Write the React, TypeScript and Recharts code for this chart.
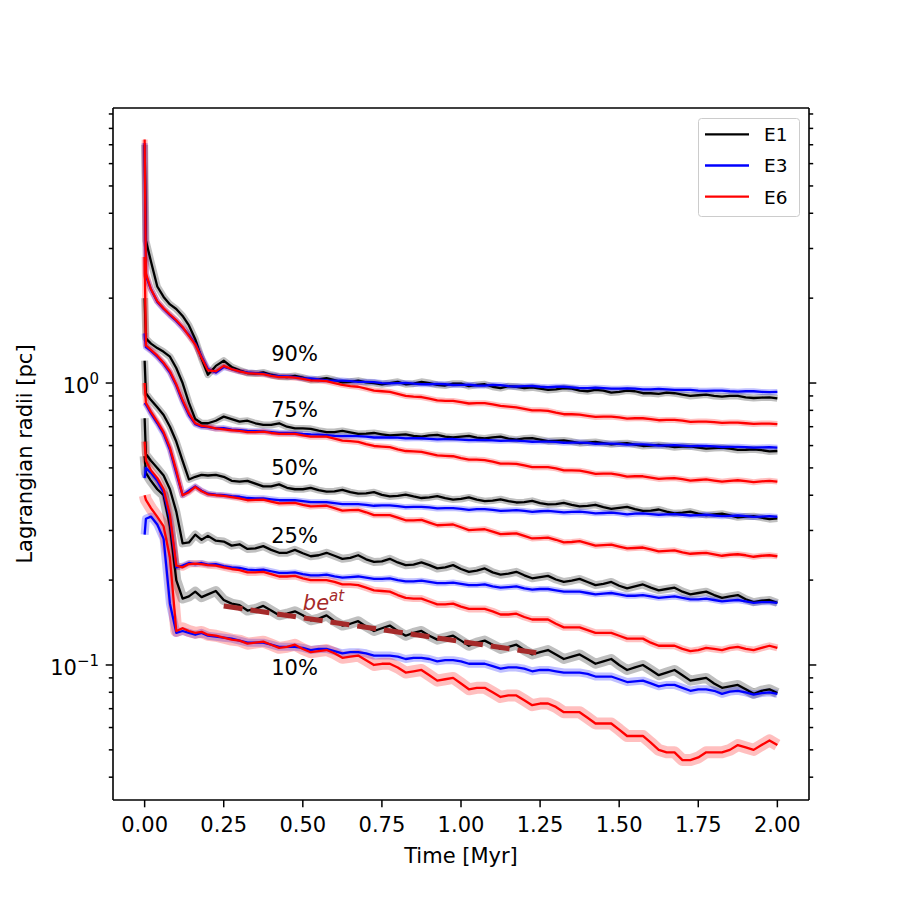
import React from 'react';
import { ComposedChart, Line, XAxis, YAxis, ReferenceDot } from 'recharts';

const FONT = '"DejaVu Sans", sans-serif';

// Time grid [Myr]
const TIME = [0, 0.004, 0.02, 0.04, 0.06, 0.08, 0.1, 0.12, 0.14, 0.16, 0.18, 0.2, 0.225, 0.25, 0.275, 0.3, 0.35, 0.4, 0.45, 0.5, 0.55, 0.6, 0.65, 0.7, 0.75, 0.8, 0.85, 0.9, 0.95, 1.0, 1.05, 1.1, 1.15, 1.2, 1.25, 1.3, 1.35, 1.4, 1.45, 1.5, 1.55, 1.6, 1.65, 1.7, 1.75, 1.8, 1.85, 1.9, 1.95, 2.0];
// intermediate samples (between the 0.05 steps above)
const TIME_MID = [0.325, 0.375, 0.425, 0.475, 0.525, 0.575, 0.625, 0.675, 0.725, 0.775, 0.825, 0.875, 0.925, 0.975, 1.025, 1.075, 1.125, 1.175, 1.225, 1.275, 1.325, 1.375, 1.425, 1.475, 1.525, 1.575, 1.625, 1.675, 1.725, 1.775, 1.825, 1.875, 1.925, 1.975];

// Lagrangian radii [pc]
const R90_E1 = [7.0, 3.2, 2.7, 2.2, 2.02, 1.9, 1.83, 1.73, 1.6, 1.43, 1.22, 1.07, 1.15, 1.2, 1.14, 1.11, 1.08, 1.07, 1.05, 1.045, 1.03, 1.025, 1.01, 1.005, 0.99, 1.01, 0.995, 1.0, 0.98, 0.995, 0.985, 0.97, 0.975, 0.96, 0.955, 0.95, 0.955, 0.935, 0.94, 0.93, 0.935, 0.92, 0.925, 0.91, 0.905, 0.9, 0.9, 0.89, 0.888, 0.882];
const R90_E1_MID = [1.085, 1.09, 1.055, 1.06, 1.025, 1.04, 1.005, 1.02, 1.0, 1.0, 0.99, 1.01, 0.985, 0.995, 0.975, 0.99, 0.96, 0.97, 0.965, 0.945, 0.96, 0.94, 0.945, 0.925, 0.94, 0.92, 0.915, 0.92, 0.9, 0.91, 0.895, 0.9, 0.885, 0.89];
const R90_E3 = [7.1, 2.4, 2.15, 1.94, 1.83, 1.74, 1.66, 1.57, 1.48, 1.38, 1.24, 1.12, 1.09, 1.14, 1.12, 1.1, 1.085, 1.065, 1.055, 1.04, 1.03, 1.02, 1.015, 1.01, 1.0, 1.0, 0.995, 0.99, 0.99, 0.985, 0.98, 0.985, 0.975, 0.975, 0.97, 0.97, 0.965, 0.96, 0.96, 0.955, 0.955, 0.95, 0.95, 0.945, 0.94, 0.94, 0.935, 0.935, 0.93, 0.93];
const R90_E3_MID = [1.09, 1.08, 1.058, 1.05, 1.038, 1.022, 1.02, 1.009, 1.008, 0.997, 1.001, 0.99, 0.993, 0.984, 0.986, 0.979, 0.983, 0.972, 0.976, 0.966, 0.97, 0.96, 0.962, 0.955, 0.958, 0.95, 0.953, 0.945, 0.945, 0.938, 0.94, 0.932, 0.935, 0.928];
const R90_E6 = [7.3, 2.45, 2.15, 1.95, 1.84, 1.75, 1.67, 1.58, 1.47, 1.37, 1.23, 1.11, 1.1, 1.15, 1.12, 1.1, 1.08, 1.06, 1.05, 1.035, 1.02, 1.0, 0.975, 0.955, 0.935, 0.915, 0.895, 0.88, 0.865, 0.855, 0.848, 0.84, 0.825, 0.81, 0.8, 0.785, 0.775, 0.765, 0.76, 0.755, 0.75, 0.745, 0.74, 0.735, 0.73, 0.727, 0.724, 0.72, 0.718, 0.715];
const R90_E6_MID = [1.085, 1.075, 1.05, 1.045, 1.022, 1.015, 0.985, 0.97, 0.94, 0.93, 0.9, 0.892, 0.868, 0.864, 0.846, 0.848, 0.83, 0.82, 0.8, 0.797, 0.775, 0.772, 0.758, 0.76, 0.748, 0.75, 0.738, 0.74, 0.728, 0.73, 0.722, 0.724, 0.716, 0.718];

const R75_E1 = [2.0, 1.44, 1.38, 1.33, 1.29, 1.24, 1.13, 1.0, 0.85, 0.745, 0.72, 0.72, 0.735, 0.76, 0.745, 0.73, 0.72, 0.71, 0.7, 0.69, 0.678, 0.67, 0.668, 0.662, 0.658, 0.655, 0.65, 0.652, 0.645, 0.646, 0.64, 0.642, 0.635, 0.636, 0.63, 0.624, 0.62, 0.615, 0.612, 0.61, 0.605, 0.6, 0.598, 0.595, 0.59, 0.588, 0.585, 0.58, 0.578, 0.574];
const R75_E1_MID = [0.735, 0.71, 0.72, 0.69, 0.688, 0.67, 0.676, 0.66, 0.665, 0.652, 0.658, 0.645, 0.655, 0.642, 0.65, 0.636, 0.645, 0.63, 0.638, 0.622, 0.626, 0.612, 0.618, 0.606, 0.612, 0.598, 0.603, 0.592, 0.596, 0.585, 0.59, 0.579, 0.582, 0.572];
const R75_E3 = [1.5, 1.34, 1.3, 1.24, 1.17, 1.09, 0.98, 0.86, 0.77, 0.715, 0.7, 0.698, 0.69, 0.692, 0.683, 0.68, 0.675, 0.67, 0.665, 0.66, 0.656, 0.65, 0.648, 0.645, 0.641, 0.64, 0.637, 0.634, 0.632, 0.63, 0.628, 0.626, 0.625, 0.622, 0.62, 0.618, 0.615, 0.613, 0.61, 0.608, 0.606, 0.603, 0.601, 0.6, 0.598, 0.596, 0.594, 0.592, 0.591, 0.59];
const R75_E3_MID = [0.676, 0.674, 0.666, 0.664, 0.657, 0.654, 0.648, 0.648, 0.641, 0.642, 0.636, 0.637, 0.631, 0.633, 0.627, 0.628, 0.624, 0.625, 0.619, 0.62, 0.614, 0.615, 0.609, 0.61, 0.605, 0.606, 0.6, 0.602, 0.597, 0.598, 0.593, 0.594, 0.59, 0.592];
const R75_E6 = [2.8, 1.36, 1.31, 1.25, 1.18, 1.1, 0.99, 0.87, 0.78, 0.72, 0.705, 0.7, 0.69, 0.685, 0.68, 0.677, 0.67, 0.665, 0.66, 0.652, 0.645, 0.635, 0.622, 0.607, 0.595, 0.582, 0.572, 0.562, 0.552, 0.542, 0.535, 0.526, 0.518, 0.51, 0.503, 0.498, 0.49, 0.483, 0.477, 0.472, 0.467, 0.462, 0.459, 0.456, 0.453, 0.451, 0.45, 0.449, 0.448, 0.447];
const R75_E6_MID = [0.67, 0.672, 0.66, 0.66, 0.645, 0.645, 0.625, 0.618, 0.598, 0.592, 0.574, 0.57, 0.554, 0.55, 0.535, 0.533, 0.518, 0.517, 0.503, 0.503, 0.49, 0.489, 0.476, 0.477, 0.466, 0.467, 0.457, 0.46, 0.451, 0.455, 0.447, 0.452, 0.445, 0.45];

const R50_E1 = [1.2, 0.92, 0.87, 0.82, 0.77, 0.7, 0.62, 0.53, 0.455, 0.465, 0.472, 0.47, 0.472, 0.465, 0.45, 0.447, 0.44, 0.43, 0.425, 0.42, 0.417, 0.413, 0.41, 0.406, 0.401, 0.398, 0.396, 0.393, 0.391, 0.388, 0.386, 0.383, 0.381, 0.378, 0.375, 0.372, 0.37, 0.367, 0.363, 0.361, 0.357, 0.353, 0.35, 0.347, 0.344, 0.342, 0.339, 0.336, 0.333, 0.331];
const R50_E1_MID = [0.45, 0.43, 0.437, 0.42, 0.425, 0.412, 0.418, 0.405, 0.41, 0.396, 0.402, 0.391, 0.397, 0.386, 0.393, 0.381, 0.387, 0.377, 0.382, 0.371, 0.376, 0.365, 0.37, 0.358, 0.364, 0.352, 0.356, 0.345, 0.35, 0.34, 0.344, 0.334, 0.337, 0.329];
const R50_E3 = [0.85, 0.84, 0.78, 0.72, 0.66, 0.58, 0.48, 0.4, 0.415, 0.43, 0.415, 0.405, 0.402, 0.4, 0.397, 0.395, 0.39, 0.387, 0.384, 0.381, 0.378, 0.375, 0.372, 0.37, 0.368, 0.366, 0.364, 0.362, 0.36, 0.358, 0.357, 0.355, 0.353, 0.352, 0.351, 0.35, 0.349, 0.348, 0.346, 0.345, 0.344, 0.343, 0.342, 0.341, 0.34, 0.339, 0.338, 0.337, 0.336, 0.335];
const R50_E3_MID = [0.391, 0.39, 0.384, 0.384, 0.378, 0.378, 0.372, 0.372, 0.367, 0.368, 0.363, 0.364, 0.359, 0.36, 0.355, 0.357, 0.352, 0.354, 0.349, 0.352, 0.348, 0.35, 0.345, 0.347, 0.342, 0.345, 0.341, 0.343, 0.339, 0.341, 0.337, 0.339, 0.335, 0.337];
const R50_E6 = [1.0, 0.85, 0.79, 0.73, 0.67, 0.59, 0.49, 0.4, 0.41, 0.428, 0.413, 0.403, 0.4, 0.398, 0.394, 0.39, 0.385, 0.38, 0.375, 0.37, 0.366, 0.36, 0.354, 0.348, 0.34, 0.333, 0.326, 0.32, 0.314, 0.308, 0.302, 0.297, 0.292, 0.287, 0.282, 0.278, 0.273, 0.27, 0.266, 0.263, 0.26, 0.257, 0.254, 0.251, 0.249, 0.247, 0.246, 0.245, 0.244, 0.243];
const R50_E6_MID = [0.384, 0.386, 0.374, 0.376, 0.365, 0.367, 0.353, 0.355, 0.34, 0.34, 0.326, 0.327, 0.313, 0.315, 0.301, 0.303, 0.291, 0.293, 0.281, 0.283, 0.272, 0.275, 0.265, 0.267, 0.259, 0.261, 0.253, 0.255, 0.248, 0.25, 0.244, 0.247, 0.242, 0.245];

const R25_E1 = [0.75, 0.56, 0.53, 0.5, 0.47, 0.42, 0.35, 0.27, 0.272, 0.29, 0.278, 0.287, 0.276, 0.274, 0.265, 0.268, 0.259, 0.256, 0.25, 0.249, 0.245, 0.244, 0.24, 0.237, 0.233, 0.231, 0.227, 0.226, 0.222, 0.219, 0.216, 0.213, 0.211, 0.208, 0.205, 0.201, 0.199, 0.197, 0.194, 0.191, 0.19, 0.188, 0.186, 0.182, 0.18, 0.177, 0.175, 0.171, 0.169, 0.166];
const R25_E1_MID = [0.258, 0.264, 0.25, 0.256, 0.243, 0.25, 0.238, 0.245, 0.232, 0.238, 0.226, 0.231, 0.22, 0.226, 0.214, 0.22, 0.209, 0.214, 0.203, 0.207, 0.197, 0.202, 0.192, 0.197, 0.187, 0.193, 0.184, 0.188, 0.178, 0.182, 0.173, 0.177, 0.167, 0.17];
const R25_E3 = [0.46, 0.5, 0.48, 0.45, 0.41, 0.33, 0.222, 0.225, 0.23, 0.228, 0.23, 0.227, 0.228, 0.224, 0.222, 0.221, 0.217, 0.215, 0.212, 0.21, 0.208, 0.206, 0.205, 0.204, 0.202, 0.2, 0.198, 0.197, 0.195, 0.194, 0.192, 0.19, 0.189, 0.187, 0.186, 0.184, 0.182, 0.18, 0.179, 0.178, 0.176, 0.175, 0.174, 0.173, 0.171, 0.17, 0.169, 0.168, 0.167, 0.166];
const R25_E3_MID = [0.218, 0.218, 0.212, 0.213, 0.208, 0.209, 0.204, 0.206, 0.202, 0.203, 0.198, 0.199, 0.195, 0.196, 0.192, 0.193, 0.188, 0.19, 0.185, 0.186, 0.182, 0.182, 0.178, 0.18, 0.176, 0.177, 0.173, 0.175, 0.171, 0.172, 0.168, 0.17, 0.166, 0.167];
const R25_E6 = [0.62, 0.53, 0.49, 0.46, 0.42, 0.34, 0.225, 0.222, 0.228, 0.229, 0.228, 0.226, 0.225, 0.222, 0.219, 0.217, 0.213, 0.21, 0.206, 0.203, 0.2, 0.197, 0.193, 0.188, 0.183, 0.177, 0.172, 0.168, 0.164, 0.161, 0.158, 0.155, 0.151, 0.148, 0.145, 0.14, 0.136, 0.133, 0.13, 0.127, 0.124, 0.12, 0.117, 0.114, 0.113, 0.114, 0.115, 0.114, 0.115, 0.115];
const R25_E6_MID = [0.213, 0.214, 0.206, 0.207, 0.2, 0.2, 0.193, 0.192, 0.184, 0.182, 0.173, 0.172, 0.164, 0.165, 0.158, 0.158, 0.151, 0.152, 0.145, 0.145, 0.136, 0.136, 0.13, 0.13, 0.124, 0.124, 0.117, 0.117, 0.112, 0.115, 0.113, 0.116, 0.113, 0.117];

const R10_E1 = [0.55, 0.48, 0.45, 0.42, 0.4, 0.31, 0.2, 0.172, 0.175, 0.182, 0.174, 0.178, 0.183, 0.17, 0.165, 0.163, 0.158, 0.156, 0.152, 0.15, 0.146, 0.143, 0.14, 0.137, 0.135, 0.132, 0.13, 0.127, 0.125, 0.122, 0.12, 0.118, 0.116, 0.113, 0.111, 0.109, 0.107, 0.105, 0.103, 0.1, 0.098, 0.096, 0.094, 0.092, 0.089, 0.086, 0.084, 0.082, 0.081, 0.0795];
const R10_E1_MID = [0.156, 0.162, 0.15, 0.155, 0.144, 0.15, 0.138, 0.143, 0.132, 0.138, 0.127, 0.132, 0.123, 0.127, 0.117, 0.122, 0.114, 0.118, 0.109, 0.113, 0.105, 0.109, 0.101, 0.105, 0.096, 0.1, 0.092, 0.096, 0.088, 0.09, 0.083, 0.085, 0.079, 0.082];
const R10_E3 = [0.29, 0.33, 0.336, 0.315, 0.28, 0.165, 0.13, 0.132, 0.13, 0.128, 0.13, 0.127, 0.126, 0.125, 0.124, 0.122, 0.12, 0.118, 0.116, 0.115, 0.114, 0.112, 0.111, 0.11, 0.108, 0.107, 0.106, 0.105, 0.104, 0.103, 0.101, 0.099, 0.098, 0.097, 0.096, 0.095, 0.094, 0.093, 0.091, 0.089, 0.0875, 0.086, 0.085, 0.083, 0.082, 0.081, 0.0805, 0.08, 0.0795, 0.079];
const R10_E3_MID = [0.12, 0.12, 0.116, 0.116, 0.113, 0.114, 0.11, 0.111, 0.108, 0.108, 0.105, 0.106, 0.103, 0.104, 0.101, 0.101, 0.097, 0.098, 0.095, 0.096, 0.094, 0.094, 0.091, 0.091, 0.087, 0.088, 0.084, 0.085, 0.081, 0.082, 0.079, 0.081, 0.0785, 0.08];
const R10_E6 = [0.4, 0.385, 0.36, 0.335, 0.31, 0.24, 0.132, 0.135, 0.132, 0.13, 0.131, 0.128, 0.127, 0.125, 0.123, 0.122, 0.12, 0.118, 0.116, 0.114, 0.112, 0.11, 0.107, 0.104, 0.101, 0.098, 0.095, 0.092, 0.089, 0.086, 0.083, 0.08, 0.078, 0.075, 0.073, 0.071, 0.068, 0.065, 0.062, 0.059, 0.056, 0.053, 0.049, 0.046, 0.047, 0.049, 0.05, 0.051, 0.052, 0.052];
const R10_E6_MID = [0.119, 0.121, 0.115, 0.118, 0.111, 0.113, 0.106, 0.108, 0.1, 0.101, 0.094, 0.096, 0.088, 0.09, 0.082, 0.083, 0.077, 0.078, 0.072, 0.073, 0.068, 0.068, 0.062, 0.062, 0.056, 0.056, 0.05, 0.049, 0.046, 0.049, 0.049, 0.052, 0.05, 0.054];

// exponential fit b*e^(a t) on the 10% E1 curve
const FIT_TIME = [0.25, 1.25];
const FIT_VALUE = [0.162, 0.11];

// ticks and labels
const X_TICKS = [0, 0.25, 0.5, 0.75, 1, 1.25, 1.5, 1.75, 2];
const X_TICK_LABELS = ['0.00', '0.25', '0.50', '0.75', '1.00', '1.25', '1.50', '1.75', '2.00'];
const Y_MAJOR = [0.1, 1];
const Y_MAJOR_EXP = ['\u22121', '0'];
const Y_MINOR = [0.04, 0.05, 0.06, 0.07, 0.08, 0.09, 0.2, 0.3, 0.4, 0.5, 0.6, 0.7, 0.8, 0.9, 2, 3, 4, 5, 6, 7, 8, 9];
const Y_TICKS = [...Y_MINOR.slice(0, 6), 0.1, ...Y_MINOR.slice(6, 14), 1, ...Y_MINOR.slice(14)];

const PCT_TEXT = ['90%', '75%', '50%', '25%', '10%'];
const PCT_T = [0.4, 0.4, 0.4, 0.4, 0.4];
const PCT_V = [1.2, 0.76, 0.47, 0.27, 0.092];
const FIT_LABEL_T = 0.5;
const FIT_LABEL_V = 0.157;

const LEGEND_NAMES = ['E1', 'E3', 'E6'];
const LEGEND_COLORS = ['#000000', '#0000ff', '#ff0000'];

const SERIES = [
  { id: 'r90e1', values: R90_E1, mids: R90_E1_MID, color: '#000000', band: 7 },
  { id: 'r75e1', values: R75_E1, mids: R75_E1_MID, color: '#000000', band: 7 },
  { id: 'r50e1', values: R50_E1, mids: R50_E1_MID, color: '#000000', band: 7 },
  { id: 'r25e1', values: R25_E1, mids: R25_E1_MID, color: '#000000', band: 8 },
  { id: 'r10e1', values: R10_E1, mids: R10_E1_MID, color: '#000000', band: 10 },
  { id: 'r90e3', values: R90_E3, mids: R90_E3_MID, color: '#0000ff', band: 6 },
  { id: 'r75e3', values: R75_E3, mids: R75_E3_MID, color: '#0000ff', band: 6 },
  { id: 'r50e3', values: R50_E3, mids: R50_E3_MID, color: '#0000ff', band: 6 },
  { id: 'r25e3', values: R25_E3, mids: R25_E3_MID, color: '#0000ff', band: 6 },
  { id: 'r10e3', values: R10_E3, mids: R10_E3_MID, color: '#0000ff', band: 8 },
  { id: 'r90e6', values: R90_E6, mids: R90_E6_MID, color: '#ff0000', band: 6 },
  { id: 'r75e6', values: R75_E6, mids: R75_E6_MID, color: '#ff0000', band: 6 },
  { id: 'r50e6', values: R50_E6, mids: R50_E6_MID, color: '#ff0000', band: 6 },
  { id: 'r25e6', values: R25_E6, mids: R25_E6_MID, color: '#ff0000', band: 7 },
  { id: 'r10e6', values: R10_E6, mids: R10_E6_MID, color: '#ff0000', band: 12 },
];

const toPoints = (xs: number[], ys: number[]) => xs.map((t, i) => ({ t, v: ys[i] }));
const buildPoints = (vals: number[], mids: number[]) =>
  [...toPoints(TIME, vals), ...toPoints(TIME_MID, mids)].sort((a, b) => a.t - b.t);

const LeftTick = (p: any) => {
  const v = p.payload.value;
  const mi = Y_MAJOR.indexOf(v);
  const major = mi >= 0;
  return (
    <g>
      <line x1={p.x} y1={p.y} x2={p.x - (major ? 7.3 : 4.2)} y2={p.y} stroke="#000" strokeWidth={1.5} />
      {major && (
        <text x={p.x - 14} y={p.y + 10} textAnchor="end" fontSize={21} fontFamily={FONT} fill="#000">
          10<tspan dy={-9} fontSize={15}>{Y_MAJOR_EXP[mi]}</tspan>
        </text>
      )}
    </g>
  );
};

const RightTick = (p: any) => {
  const v = p.payload.value;
  const major = Y_MAJOR.indexOf(v) >= 0;
  return <line x1={p.x} y1={p.y} x2={p.x + (major ? 7.3 : 4.2)} y2={p.y} stroke="#000" strokeWidth={1.5} />;
};

const BottomTick = (p: any) => {
  const i = X_TICKS.indexOf(p.payload.value);
  return (
    <g>
      <line x1={p.x} y1={p.y} x2={p.x} y2={p.y + 7.3} stroke="#000" strokeWidth={1.5} />
      <text x={p.x} y={p.y + 32} textAnchor="middle" fontSize={21} fontFamily={FONT} fill="#000">
        {X_TICK_LABELS[i]}
      </text>
    </g>
  );
};

const XLabel = (props: any) => {
  const vb = props.viewBox;
  return (
    <text x={vb.x + vb.width / 2} y={vb.y + 63} textAnchor="middle" fontSize={21} fontFamily={FONT} fill="#000">
      Time [Myr]
    </text>
  );
};

const YLabel = (props: any) => {
  const vb = props.viewBox;
  const x = vb.x - 80;
  const y = vb.y + vb.height / 2;
  return (
    <text x={x} y={y} transform={`rotate(-90, ${x}, ${y})`} textAnchor="middle" fontSize={21} fontFamily={FONT} fill="#000">
      Lagrangian radii [pc]
    </text>
  );
};

export default function App() {
  const X_DOMAIN: [number, number] = [-0.1, 2.1];
  const Y_DOMAIN: [number, number] = [0.0332, 9.45];
  return (
    <div style={{ position: 'absolute', left: 0, top: 0, width: 900, height: 900, background: '#fff' }}>
      <ComposedChart
        width={900}
        height={900}
        margin={{ top: 107, right: 90, bottom: 99, left: 112 }}
        style={{ fontFamily: FONT }}
      >
        <XAxis
          xAxisId="x"
          type="number"
          dataKey="t"
          domain={X_DOMAIN}
          allowDataOverflow
          ticks={X_TICKS}
          interval={0}
          height={1}
          tickSize={0}
          tickMargin={0}
          tickLine={false}
          tick={<BottomTick />}
          axisLine={{ stroke: '#000', strokeWidth: 1.6 }}
          label={{ content: <XLabel /> } as any}
        />
        <XAxis
          xAxisId="top"
          orientation="top"
          type="number"
          dataKey="t"
          domain={X_DOMAIN}
          allowDataOverflow
          height={1}
          tick={false}
          tickLine={false}
          axisLine={{ stroke: '#000', strokeWidth: 1.6 }}
        />
        <YAxis
          yAxisId="l"
          type="number"
          scale="log"
          domain={Y_DOMAIN}
          allowDataOverflow
          ticks={Y_TICKS}
          interval={0}
          width={1}
          tickSize={0}
          tickMargin={0}
          tickLine={false}
          tick={<LeftTick />}
          axisLine={{ stroke: '#000', strokeWidth: 1.6 }}
          label={{ content: <YLabel /> } as any}
        />
        <YAxis
          yAxisId="r"
          orientation="right"
          type="number"
          scale="log"
          domain={Y_DOMAIN}
          allowDataOverflow
          ticks={Y_TICKS}
          interval={0}
          width={1}
          tickSize={0}
          tickMargin={0}
          tickLine={false}
          tick={<RightTick />}
          axisLine={{ stroke: '#000', strokeWidth: 1.6 }}
        />
        {SERIES.map((s) => (
          <Line
            key={s.id + '-band'}
            xAxisId="x"
            yAxisId="l"
            data={buildPoints(s.values, s.mids)}
            dataKey="v"
            type="linear"
            stroke={s.color}
            strokeOpacity={0.25}
            strokeWidth={s.band}
            strokeLinejoin="round"
            dot={false}
            activeDot={false}
            isAnimationActive={false}
          />
        ))}
        {SERIES.map((s) => (
          <Line
            key={s.id}
            xAxisId="x"
            yAxisId="l"
            data={buildPoints(s.values, s.mids)}
            dataKey="v"
            type="linear"
            stroke={s.color}
            strokeWidth={2.3}
            strokeLinejoin="round"
            dot={false}
            activeDot={false}
            isAnimationActive={false}
          />
        ))}
        <Line
          xAxisId="x"
          yAxisId="l"
          data={toPoints(FIT_TIME, FIT_VALUE)}
          dataKey="v"
          type="linear"
          stroke="#a52a2a"
          strokeWidth={5}
          strokeDasharray="19 8"
          dot={false}
          activeDot={false}
          isAnimationActive={false}
        />
        {PCT_TEXT.map((txt, i) => (
          <ReferenceDot
            key={txt}
            xAxisId="x"
            yAxisId="l"
            x={PCT_T[i]}
            y={PCT_V[i]}
            r={0}
            shape={(p: any) => (
              <text x={p.cx} y={p.cy} fontSize={21} fontFamily={FONT} fill="#000">
                {txt}
              </text>
            )}
          />
        ))}
        <ReferenceDot
          xAxisId="x"
          yAxisId="l"
          x={FIT_LABEL_T}
          y={FIT_LABEL_V}
          r={0}
          shape={(p: any) => (
            <text x={p.cx} y={p.cy} fontSize={21} fontFamily={FONT} fill="#a52a2a" fontStyle="italic">
              be<tspan dy={-9} fontSize={15}>at</tspan>
            </text>
          )}
        />
      </ComposedChart>
      <svg
        width={900}
        height={900}
        style={{ position: 'absolute', left: 0, top: 0, pointerEvents: 'none' }}
      >
        <rect x={698.5} y={118.5} width={101} height={98} rx={3} ry={3} fill="#ffffff" fillOpacity={0.8} stroke="#cccccc" strokeWidth={1} />
        {LEGEND_NAMES.map((name, i) => {
          const ly = 134.3 + i * 31.2;
          return (
            <g key={name}>
              <line x1={705} y1={ly} x2={749} y2={ly} stroke={LEGEND_COLORS[i]} strokeWidth={2.3} />
              <text x={764} y={ly + 6.8} fontSize={18.5} fontFamily={FONT} fill="#000">
                {name}
              </text>
            </g>
          );
        })}
      </svg>
    </div>
  );
}
